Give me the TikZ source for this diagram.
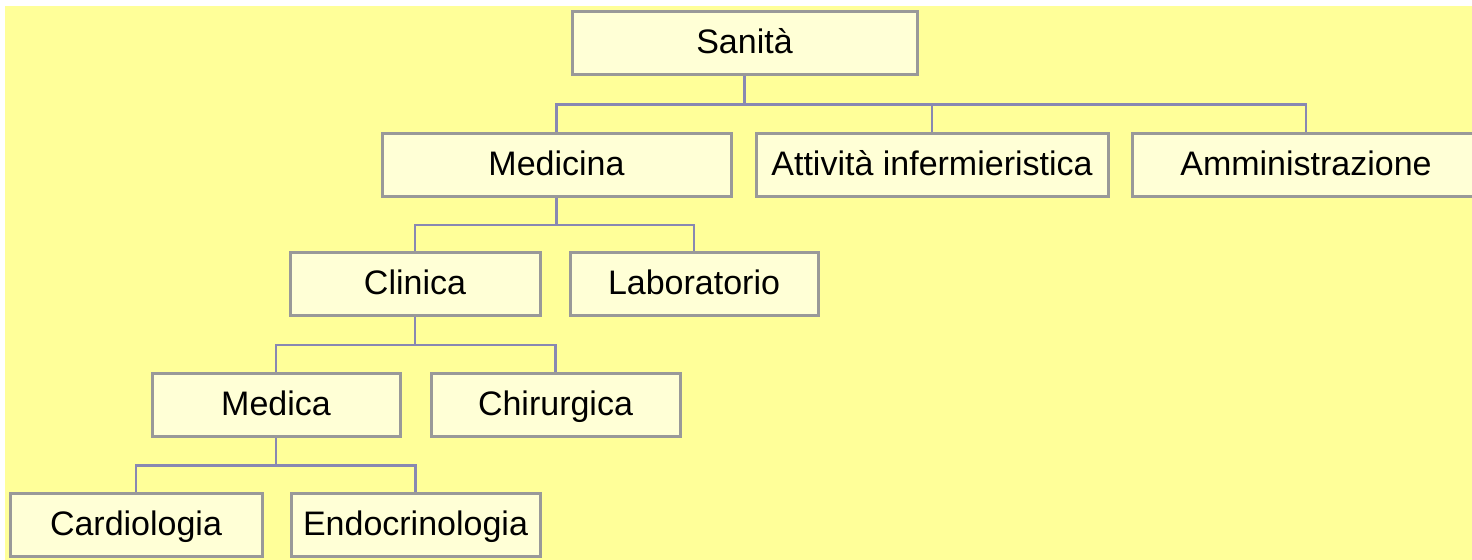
\documentclass[tikz,border=0pt]{standalone}
\usepackage{fontspec}
\setmainfont{Liberation Sans}
\usepackage{xcolor}
\usepackage{tikz}
\usetikzlibrary{calc}

\definecolor{sfondo}{HTML}{FFFF99}
\definecolor{riempi}{HTML}{FFFFD6}
\definecolor{bordo}{HTML}{999999}
\definecolor{linea}{RGB}{136,136,178}

\tikzset{
  unita/.style={draw=bordo, fill=riempi, line width=1.5pt, minimum height=31.5pt,
    inner sep=0pt, text height=13pt, text depth=2.6pt,
    font=\fontsize{17}{20}\selectfont},
  legame/.style={draw=linea, line width=1.2pt}
}

\begin{document}
\begin{tikzpicture}[x=0.5pt,y=-0.5pt]
\useasboundingbox (0,0) rectangle (1472,560);
% Background
\fill[white] (0,0) rectangle (1472,560);
\fill[sfondo] (5,6) rectangle (1472,560);

% Units: name/x/y/width/label
\foreach \n/\x/\y/\w/\lbl in {
  sanita/744.5/43.5/345/{Sanità},
  medicina/556.5/165.5/349/Medicina,
  attivita/932/165.5/352/{Attività infermieristica},
  amministr/1306/165.5/348/Amministrazione,
  clinica/415/284.5/250/Clinica,
  laboratorio/694/284.5/248/Laboratorio,
  medica/276/405.5/248/Medica,
  chirurgica/555.5/405.5/249/Chirurgica,
  cardiologia/136/525.5/252/Cardiologia,
  endocrino/415.5/525.5/249/Endocrinologia}{
  \node[unita, minimum width=\w*0.5pt] (\n) at (\x,\y) {\lbl};
}

% Links parent -> child
\foreach \p/\c in {sanita/medicina, sanita/attivita, sanita/amministr,
  medicina/clinica, medicina/laboratorio,
  clinica/medica, clinica/chirurgica,
  medica/cardiologia, medica/endocrino}{
  \draw[legame] (\p.south) -- ($(\p.south)!0.5!(\p.south |- \c.north)$) -| (\c.north);
}
\end{tikzpicture}
\end{document}
